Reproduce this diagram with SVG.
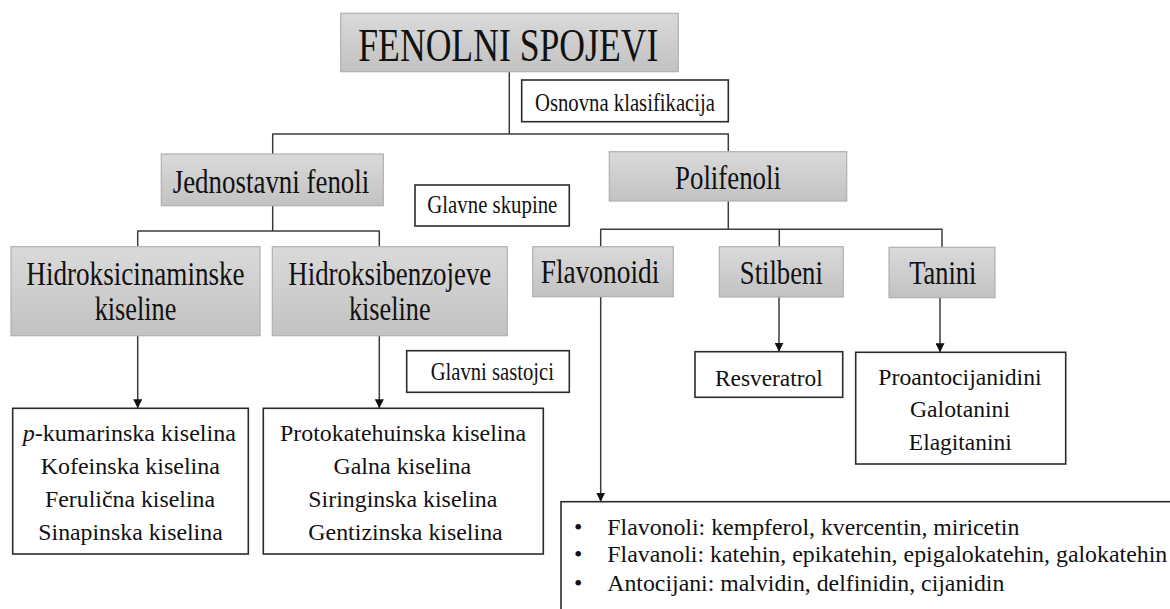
<svg xmlns="http://www.w3.org/2000/svg" width="1170" height="609" viewBox="0 0 1170 609">
<defs>
<linearGradient id="gray" x1="0" y1="0" x2="0" y2="1">
<stop offset="0" stop-color="#dadada"/>
<stop offset="1" stop-color="#c2c2c2"/>
</linearGradient>
<marker id="ah" markerUnits="userSpaceOnUse" markerWidth="9" markerHeight="9" refX="9" refY="4.5" orient="auto" viewBox="0 0 9 9">
<path d="M0,0 L9,4.5 L0,9 z" fill="#111"/>
</marker>
</defs>
<style>
.gb{fill:url(#gray);stroke:#b0b0b0;stroke-width:1.2}
.wb{fill:#fff;stroke:#2b2b2b;stroke-width:1.6}
.t{fill:#111;text-anchor:middle}
.s{text-anchor:start}
.t1{font-size:47px}
.t2{font-size:33px}
.t3{font-size:26px}
.t4{font-size:24px}
.c{fill:none;stroke:#3c3c3c;stroke-width:1.5;stroke-linejoin:round}
.a{fill:none;stroke:#3c3c3c;stroke-width:1.5;marker-end:url(#ah)}
</style>
<rect width="1170" height="609" fill="#fff"/>

<g id="connectors">
<path class="c" d="M509.3,71.7 V134"/>
<path class="c" d="M272.7,154 V134 H728.3 V151.7"/>
<path class="c" d="M272.7,205.7 V231"/>
<path class="c" d="M137.7,246.7 V231 H379.3 V246.7"/>
<path class="c" d="M728.3,201 V229.3"/>
<path class="c" d="M600.7,246.7 V229.3 H942 V247.3"/>
<path class="c" d="M779.3,229.3 V246.7"/>
<path class="a" d="M137.7,335.7 V408.3"/>
<path class="a" d="M379.3,335.7 V408.3"/>
<path class="a" d="M600.7,296.7 V501.7"/>
<path class="a" d="M779,297 V351.7"/>
<path class="a" d="M940,297.7 V352.3"/>
</g>

<g font-family="Liberation Serif, serif">
<g id="fenolni-spojevi">
<rect class="gb" x="340.7" y="13.3" width="337.6" height="58.4"/>
<text class="t t1" x="508.3" y="60.7" textLength="300" lengthAdjust="spacingAndGlyphs">FENOLNI SPOJEVI</text>
</g>

<g id="osnovna-klasifikacija">
<rect class="wb" x="521.7" y="80" width="206.6" height="41.7"/>
<text class="t t3" x="625" y="110.5" textLength="180" lengthAdjust="spacingAndGlyphs">Osnovna klasifikacija</text>
</g>

<g id="jednostavni-fenoli">
<rect class="gb" x="161.3" y="154" width="222" height="51.7"/>
<text class="t t2" x="271" y="192.5" textLength="196.6" lengthAdjust="spacingAndGlyphs">Jednostavni fenoli</text>
</g>

<g id="polifenoli">
<rect class="gb" x="609.3" y="151.7" width="237.4" height="49.3"/>
<text class="t t2" x="728" y="189" textLength="106" lengthAdjust="spacingAndGlyphs">Polifenoli</text>
</g>

<g id="glavne-skupine">
<rect class="wb" x="415" y="185" width="154.3" height="41"/>
<text class="t t3" x="492.3" y="213.3" textLength="130" lengthAdjust="spacingAndGlyphs">Glavne skupine</text>
</g>

<g id="hidroksicinaminske">
<rect class="gb" x="11" y="246.7" width="249" height="89"/>
<text class="t t2" x="135.5" y="285" textLength="218.3" lengthAdjust="spacingAndGlyphs">Hidroksicinaminske</text>
<text class="t t2" x="135.5" y="320" textLength="81.7" lengthAdjust="spacingAndGlyphs">kiseline</text>
</g>

<g id="hidroksibenzojeve">
<rect class="gb" x="272.3" y="246.7" width="235" height="89"/>
<text class="t t2" x="389.8" y="285" textLength="203" lengthAdjust="spacingAndGlyphs">Hidroksibenzojeve</text>
<text class="t t2" x="389.8" y="320" textLength="81.7" lengthAdjust="spacingAndGlyphs">kiseline</text>
</g>

<g id="flavonoidi">
<rect class="gb" x="532.7" y="246.7" width="140.6" height="50"/>
<text class="t t2" x="600" y="283" textLength="118.6" lengthAdjust="spacingAndGlyphs">Flavonoidi</text>
</g>

<g id="stilbeni">
<rect class="gb" x="719.3" y="246.7" width="124" height="50.3"/>
<text class="t t2" x="781.3" y="283.5" textLength="83" lengthAdjust="spacingAndGlyphs">Stilbeni</text>
</g>

<g id="tanini">
<rect class="gb" x="889" y="247.3" width="106" height="50.4"/>
<text class="t t2" x="942.8" y="284" textLength="67" lengthAdjust="spacingAndGlyphs">Tanini</text>
</g>

<g id="glavni-sastojci">
<rect class="wb" x="406.7" y="350.7" width="162.6" height="41.6"/>
<text class="t t3" x="492.3" y="380" textLength="123.3" lengthAdjust="spacingAndGlyphs">Glavni sastojci</text>
</g>

<g id="hidroksicinaminske-sastojci">
<rect class="wb" x="12.7" y="408.3" width="235.6" height="145.7"/>
<text class="t t4" x="129.3" y="440.5" textLength="213.3" lengthAdjust="spacingAndGlyphs"><tspan font-style="italic">p</tspan>-kumarinska kiselina</text>
<text class="t t4" x="130.3" y="473.5" textLength="179.3" lengthAdjust="spacingAndGlyphs">Kofeinska kiselina</text>
<text class="t t4" x="130" y="506.5" textLength="170" lengthAdjust="spacingAndGlyphs">Ferulična kiselina</text>
<text class="t t4" x="130.5" y="539.5" textLength="184.4" lengthAdjust="spacingAndGlyphs">Sinapinska kiselina</text>
</g>

<g id="hidroksibenzojeve-sastojci">
<rect class="wb" x="263.3" y="408.3" width="280" height="145.7"/>
<text class="t t4" x="403" y="440.5" textLength="246" lengthAdjust="spacingAndGlyphs">Protokatehuinska kiselina</text>
<text class="t t4" x="402.3" y="473.5" textLength="137.7" lengthAdjust="spacingAndGlyphs">Galna kiselina</text>
<text class="t t4" x="402.8" y="506.5" textLength="189" lengthAdjust="spacingAndGlyphs">Siringinska kiselina</text>
<text class="t t4" x="405.5" y="539.5" textLength="194.4" lengthAdjust="spacingAndGlyphs">Gentizinska kiselina</text>
</g>

<g id="resveratrol">
<rect class="wb" x="695" y="351.7" width="147.7" height="45.6"/>
<text class="t t4" x="768.8" y="385.5" textLength="107.7" lengthAdjust="spacingAndGlyphs">Resveratrol</text>
</g>

<g id="tanini-sastojci">
<rect class="wb" x="855.7" y="352.3" width="210" height="111.7"/>
<text class="t t4" x="960" y="385" textLength="163.3" lengthAdjust="spacingAndGlyphs">Proantocijanidini</text>
<text class="t t4" x="960" y="417.3" textLength="100" lengthAdjust="spacingAndGlyphs">Galotanini</text>
<text class="t t4" x="960.3" y="449.7" textLength="103" lengthAdjust="spacingAndGlyphs">Elagitanini</text>
</g>

<g id="flavonoidi-sastojci">
<rect class="wb" x="561" y="501.7" width="640" height="140"/>
<text class="t t4" x="578.3" y="534.7">•</text>
<text class="t t4 s" x="607.3" y="534.7" textLength="412" lengthAdjust="spacingAndGlyphs">Flavonoli: kempferol, kvercentin, miricetin</text>
<text class="t t4" x="578.3" y="562.3">•</text>
<text class="t t4 s" x="607.3" y="562.3" textLength="560" lengthAdjust="spacingAndGlyphs">Flavanoli: katehin, epikatehin, epigalokatehin, galokatehin</text>
<text class="t t4" x="578.3" y="590.7">•</text>
<text class="t t4 s" x="607.3" y="590.7" textLength="397" lengthAdjust="spacingAndGlyphs">Antocijani: malvidin, delfinidin, cijanidin</text>
</g>
</g>
</svg>
